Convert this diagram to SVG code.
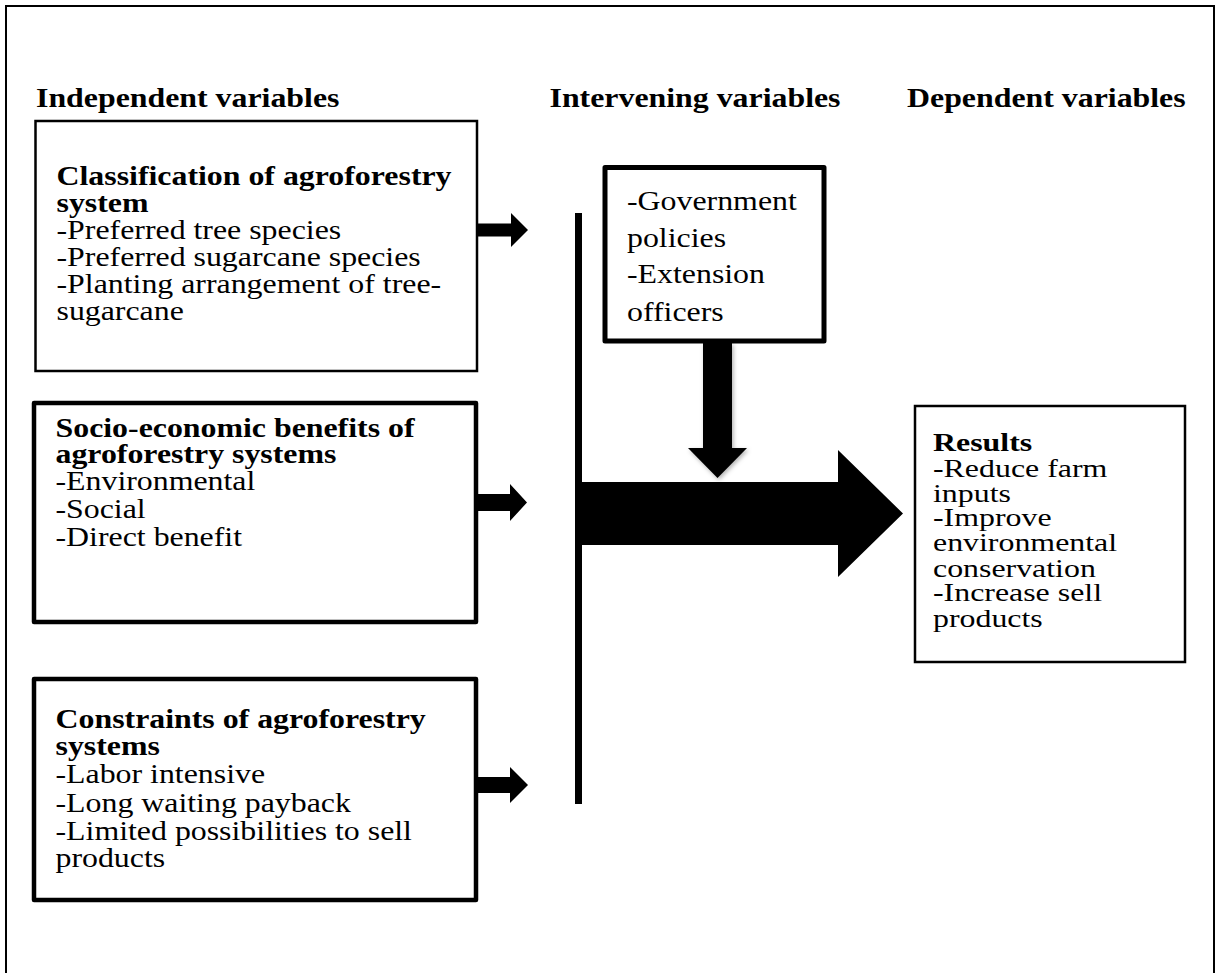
<svg xmlns="http://www.w3.org/2000/svg" width="1217" height="973" viewBox="0 0 1217 973">
<style>
text{font-family:"Liberation Serif","Times New Roman",serif;font-size:27px;fill:#000}
.b{font-weight:bold}
.sm{font-size:25.5px}
.box{fill:#fff;stroke:#000}
.arr{fill:#000;stroke:none}
</style>
<defs>
<filter id="sh" x="-30%" y="-30%" width="160%" height="160%">
<feDropShadow dx="1.5" dy="2" stdDeviation="2" flood-color="#000" flood-opacity="0.3"/>
</filter>
</defs>
<rect x="0" y="0" width="1217" height="973" fill="#fff"/>
<rect id="frame" x="6" y="6" width="1208" height="1000" fill="none" stroke="#000" stroke-width="2"/>
<g id="headers">
<text class="b" transform="translate(36,107) scale(1.18,1)">Independent variables</text>
<text class="b" transform="translate(549.5,107) scale(1.18,1)">Intervening variables</text>
<text class="b" transform="translate(907,107) scale(1.18,1)">Dependent variables</text>
</g>
<g id="connectors">
<polygon class="arr" points="477,223.5 511,223.5 511,213 528,230 511,247 511,236.5 477,236.5"/>
<polygon class="arr" points="478,494 510,494 510,484 527,502.5 510,521 510,511 478,511"/>
<polygon class="arr" points="478,777 510,777 510,767 528,785 510,803 510,793 478,793"/>
<rect class="arr" x="575" y="213" width="7" height="591"/>
<polygon class="arr" points="578,482 838,482 838,450 903,513.5 838,577 838,545 578,545"/>
<polygon class="arr" filter="url(#sh)" points="703,343 732,343 732,448 747,448 717.5,478 688,448 703,448"/>
</g>
<g id="node-classification">
<rect class="box" x="35.5" y="121" width="441.5" height="250" stroke-width="2.5"/>
<text transform="translate(56.5,0) scale(1.18,1)">
<tspan class="b" x="0" y="185">Classification of agroforestry</tspan>
<tspan class="b" x="0" y="212">system</tspan>
<tspan x="0" y="239">-Preferred tree species</tspan>
<tspan x="0" y="266">-Preferred sugarcane species</tspan>
<tspan x="0" y="293">-Planting arrangement of tree-</tspan>
<tspan x="0" y="320">sugarcane</tspan>
</text>
</g>
<g id="node-socio">
<rect class="box" x="34" y="403" width="442" height="219" stroke-width="4.5" stroke-linejoin="round"/>
<text transform="translate(55.5,0) scale(1.18,1)">
<tspan class="b" x="0" y="437">Socio-economic benefits of</tspan>
<tspan class="b" x="0" y="463">agroforestry systems</tspan>
<tspan x="0" y="490">-Environmental</tspan>
<tspan x="0" y="518">-Social</tspan>
<tspan x="0" y="546">-Direct benefit</tspan>
</text>
</g>
<g id="node-constraints">
<rect class="box" x="34" y="679" width="442" height="221" stroke-width="4.5" stroke-linejoin="round"/>
<text transform="translate(55.5,0) scale(1.18,1)">
<tspan class="b" x="0" y="728">Constraints of agroforestry</tspan>
<tspan class="b" x="0" y="755">systems</tspan>
<tspan x="0" y="783">-Labor intensive</tspan>
<tspan x="0" y="812">-Long waiting payback</tspan>
<tspan x="0" y="840">-Limited possibilities to sell</tspan>
<tspan x="0" y="867">products</tspan>
</text>
</g>
<g id="node-intervening">
<rect class="box" x="605" y="167.5" width="219" height="173.5" stroke-width="5" stroke-linejoin="round"/>
<text transform="translate(627,0) scale(1.18,1)">
<tspan x="0" y="210">-Government</tspan>
<tspan x="0" y="247">policies</tspan>
<tspan x="0" y="283">-Extension</tspan>
<tspan x="0" y="321">officers</tspan>
</text>
</g>
<g id="node-results">
<rect class="box" x="915" y="406" width="270" height="256" stroke-width="2.5"/>
<text class="sm" transform="translate(933,0) scale(1.25,1)">
<tspan class="b" x="0" y="451">Results</tspan>
<tspan x="0" y="477">-Reduce farm</tspan>
<tspan x="0" y="502">inputs</tspan>
<tspan x="0" y="526">-Improve</tspan>
<tspan x="0" y="551">environmental</tspan>
<tspan x="0" y="577">conservation</tspan>
<tspan x="0" y="601">-Increase sell</tspan>
<tspan x="0" y="627">products</tspan>
</text>
</g>
</svg>
